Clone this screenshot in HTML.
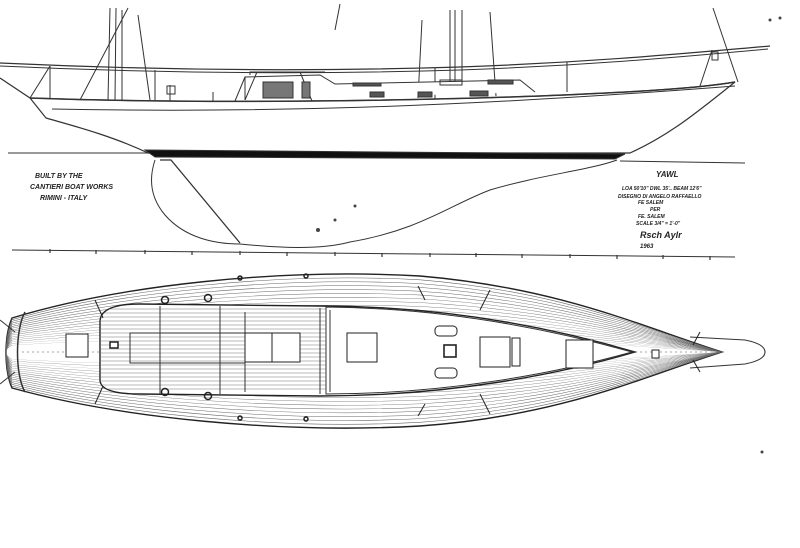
<!DOCTYPE html>
<html><head><meta charset="utf-8"><style>
html,body{margin:0;padding:0;background:#fff;}
svg{display:block;}
text{font-family:"Liberation Sans",sans-serif;font-style:italic;font-weight:bold;fill:#222;}
</style></head><body>
<svg width="800" height="548" viewBox="0 0 800 548" xmlns="http://www.w3.org/2000/svg">
<defs>
<path id="hull" d="M12,318 C120,285 280,268 420,276 C560,288 640,326 722,352 C640,378 560,416 420,426 C280,434 120,418 12,388 C4,370 4,336 12,318 Z"/>
<clipPath id="hc"><use href="#hull"/></clipPath>
<path id="house" d="M100,322 Q100,304 140,304 L320,306 C450,306 560,330 635,352 C560,374 450,396 320,396 L140,394 Q100,394 100,380 Z"/>
<clipPath id="ck"><use href="#house"/></clipPath>
</defs>
<rect width="800" height="548" fill="#fff"/>

<!-- PROFILE -->
<g stroke="#333" fill="none" stroke-width="1">
<line x1="110" y1="8" x2="108" y2="100"/><line x1="116" y1="8" x2="115" y2="100"/><line x1="122" y1="10" x2="122" y2="100"/>
<line x1="128" y1="8" x2="80" y2="100"/><line x1="138" y1="15" x2="150" y2="100"/>
<line x1="450" y1="10" x2="450" y2="82"/><line x1="455" y1="10" x2="455" y2="82"/><line x1="462" y1="10" x2="462" y2="82"/>
<line x1="490" y1="12" x2="496" y2="96"/><line x1="422" y1="20" x2="418" y2="98"/>
<line x1="340" y1="4" x2="335" y2="30"/>
<line x1="713" y1="8" x2="738" y2="82"/>
<path d="M0,63 C150,70 300,72 460,67 C600,62 700,52 770,46" stroke-width="1.2"/>
<path d="M0,66 C150,73 300,75 460,70 C600,65 700,55 768,49"/>
<line x1="50" y1="66" x2="30" y2="98"/><line x1="50" y1="66" x2="50" y2="99"/>
<line x1="155" y1="70" x2="155" y2="101"/><line x1="435" y1="68" x2="435" y2="100"/>
<line x1="567" y1="62" x2="567" y2="92"/><line x1="712" y1="50" x2="700" y2="86"/>
<rect x="712" y="52" width="6" height="8"/>
<path d="M0,78 L30,98 C200,104 400,101 540,96 C640,92 700,88 735,82 C700,110 670,135 630,153 L148,153 C110,135 70,125 46,118 L30,98" fill="#fff" stroke-width="1.2"/>
<path d="M30,98 C200,104 400,101 540,96 C640,92 700,88 735,82" stroke-width="1.5"/>
<path d="M52,109 C250,113 450,108 735,86" stroke-width="1"/>
<path d="M245,100 L245,77 L320,75 L335,84 L520,80 L535,92" fill="#fff"/>
<path d="M250,75 L250,72 L325,72" /><line x1="245" y1="77" x2="235" y2="101"/><line x1="300" y1="72" x2="312" y2="101"/>
<line x1="257" y1="72" x2="245" y2="100"/>
<rect x="263" y="82" width="30" height="16" fill="#777"/><rect x="302" y="82" width="8" height="16" fill="#777"/>
<rect x="370" y="92" width="14" height="5" fill="#555"/><rect x="418" y="92" width="14" height="5" fill="#555"/><rect x="470" y="91" width="18" height="5" fill="#555"/>
<rect x="353" y="83" width="28" height="3" fill="#555"/><rect x="488" y="80" width="25" height="4" fill="#555"/>
<rect x="440" y="80" width="22" height="5"/>
<line x1="170" y1="85" x2="170" y2="101"/><rect x="167" y="86" width="8" height="8"/>
<line x1="213" y1="92" x2="213" y2="101"/>
</g>
<g stroke="#333" fill="none">
<line x1="8" y1="153" x2="148" y2="153"/>
<line x1="620" y1="161" x2="745" y2="163"/>
<path d="M145,150 L625,154 L615,159 L155,157 Z" fill="#111"/>
<path d="M155,160 C150,175 148,195 165,215 C185,238 215,244 240,244 C280,248 320,250 350,242 C420,230 450,205 490,190 C540,175 590,170 617,160" fill="#fff"/>
<path d="M160,160 L171,160 L240,243" stroke-width="1.3"/>
<line x1="12" y1="250" x2="735" y2="257"/>
<g stroke-width="1.2">
<line x1="50" y1="249" x2="50" y2="253"/><line x1="96" y1="250" x2="96" y2="254"/><line x1="145" y1="250" x2="145" y2="254"/>
<line x1="192" y1="251" x2="192" y2="255"/><line x1="240" y1="251" x2="240" y2="255"/><line x1="287" y1="252" x2="287" y2="256"/>
<line x1="335" y1="252" x2="335" y2="256"/><line x1="382" y1="253" x2="382" y2="257"/><line x1="430" y1="253" x2="430" y2="257"/>
<line x1="476" y1="253" x2="476" y2="257"/><line x1="522" y1="254" x2="522" y2="258"/><line x1="570" y1="254" x2="570" y2="258"/>
<line x1="617" y1="255" x2="617" y2="259"/><line x1="663" y1="255" x2="663" y2="259"/><line x1="710" y1="256" x2="710" y2="260"/>
</g>
</g>
<g font-size="7">
<text x="35" y="178">BUILT BY THE</text>
<text x="30" y="189">CANTIERI BOAT WORKS</text>
<text x="40" y="200">RIMINI - ITALY</text>
<text x="656" y="177" font-size="8">YAWL</text>
<text x="622" y="190" font-size="5">LOA 50'10" DWL 35'.. BEAM 12'6"</text>
<text x="618" y="198" font-size="5">DISEGNO DI ANGELO RAFFAELLO</text>
<text x="638" y="204" font-size="5">FE SALEM</text>
<text x="650" y="211" font-size="5">PER</text>
<text x="638" y="218" font-size="5">FE. SALEM</text>
<text x="636" y="225" font-size="5">SCALE 3/4" = 1'-0"</text>
<text x="640" y="238" font-size="9" font-weight="normal">Rsch Aylr</text>
<text x="640" y="248" font-size="6">1963</text>
</g>

<!-- PLAN -->
<path d="M690,337 L745,340 Q765,344 765,352 Q765,360 745,364 L690,368" fill="#fff" stroke="#333" stroke-width="1.1"/>
<use href="#hull" fill="#fff" stroke="#222" stroke-width="1.4"/>
<g clip-path="url(#hc)" fill="none" stroke="#666" stroke-width="0.6">
<use href="#hull" transform="translate(0,352) scale(1,0.95) translate(0,-352)"/>
<use href="#hull" transform="translate(0,352) scale(1,0.90) translate(0,-352)"/>
<use href="#hull" transform="translate(0,352) scale(1,0.85) translate(0,-352)"/>
<use href="#hull" transform="translate(0,352) scale(1,0.80) translate(0,-352)"/>
<use href="#hull" transform="translate(0,352) scale(1,0.75) translate(0,-352)"/>
<use href="#hull" transform="translate(0,352) scale(1,0.70) translate(0,-352)"/>
<use href="#hull" transform="translate(0,352) scale(1,0.65) translate(0,-352)"/>
<use href="#hull" transform="translate(0,352) scale(1,0.60) translate(0,-352)"/>
<use href="#hull" transform="translate(0,352) scale(1,0.55) translate(0,-352)"/>
<use href="#hull" transform="translate(0,352) scale(1,0.50) translate(0,-352)"/>
<use href="#hull" transform="translate(0,352) scale(1,0.45) translate(0,-352)"/>
<use href="#hull" transform="translate(0,352) scale(1,0.40) translate(0,-352)"/>
<use href="#hull" transform="translate(0,352) scale(1,0.35) translate(0,-352)"/>
<use href="#hull" transform="translate(0,352) scale(1,0.30) translate(0,-352)"/>
<use href="#hull" transform="translate(0,352) scale(1,0.25) translate(0,-352)"/>
<use href="#hull" transform="translate(0,352) scale(1,0.20) translate(0,-352)"/>
</g>
<rect x="22" y="348" width="80" height="8" fill="#fff"/>
<path d="M620,349 L712,351 L712,353 L620,355 Z" fill="#fff"/>
<line x1="22" y1="352" x2="100" y2="352" stroke="#888" stroke-dasharray="2,3" stroke-width="0.7"/>
<line x1="635" y1="352" x2="712" y2="352" stroke="#888" stroke-dasharray="2,3" stroke-width="0.7"/>
<path d="M25,312 C15,330 15,375 25,392" fill="none" stroke="#333" stroke-width="1.5"/>
<line x1="0" y1="320" x2="15" y2="332" stroke="#333"/><line x1="0" y1="384" x2="15" y2="372" stroke="#333"/>
<use href="#house" fill="#fff" stroke="#222" stroke-width="1.4"/>
<g clip-path="url(#ck)" stroke="#777" stroke-width="0.6">
<line x1="100" y1="309" x2="330" y2="309"/><line x1="100" y1="313" x2="330" y2="313"/><line x1="100" y1="317" x2="330" y2="317"/>
<line x1="100" y1="321" x2="330" y2="321"/><line x1="100" y1="325" x2="330" y2="325"/><line x1="100" y1="329" x2="330" y2="329"/>
<line x1="100" y1="333" x2="330" y2="333"/><line x1="100" y1="337" x2="330" y2="337"/><line x1="100" y1="341" x2="330" y2="341"/>
<line x1="100" y1="345" x2="330" y2="345"/><line x1="100" y1="349" x2="330" y2="349"/><line x1="100" y1="353" x2="330" y2="353"/>
<line x1="100" y1="357" x2="330" y2="357"/><line x1="100" y1="361" x2="330" y2="361"/><line x1="100" y1="365" x2="330" y2="365"/>
<line x1="100" y1="369" x2="330" y2="369"/><line x1="100" y1="373" x2="330" y2="373"/><line x1="100" y1="377" x2="330" y2="377"/>
<line x1="100" y1="381" x2="330" y2="381"/><line x1="100" y1="385" x2="330" y2="385"/><line x1="100" y1="389" x2="330" y2="389"/>
</g>
<g fill="none" stroke="#333" stroke-width="1">
<line x1="160" y1="306" x2="160" y2="394"/><line x1="220" y1="306" x2="220" y2="394"/>
<rect x="130" y="333" width="115" height="30"/>
<line x1="245" y1="312" x2="245" y2="392"/><line x1="320" y1="308" x2="320" y2="394"/>
<path d="M326,307 C450,308 560,332 632,352 C560,372 450,394 326,394 Z" fill="#fff"/>
<line x1="330" y1="310" x2="330" y2="392"/>
</g>
<g fill="#fff" stroke="#222" stroke-width="1">
<rect x="66" y="334" width="22" height="23"/>
<rect x="245" y="333" width="27" height="29"/><rect x="272" y="333" width="28" height="29"/>
<rect x="347" y="333" width="30" height="29"/>
<rect x="480" y="337" width="30" height="30"/><rect x="512" y="338" width="8" height="28"/>
<rect x="566" y="340" width="27" height="28"/>
<rect x="444" y="345" width="12" height="12" stroke-width="1.6"/>
<rect x="435" y="326" width="22" height="10" rx="4"/><rect x="435" y="368" width="22" height="10" rx="4"/>
<rect x="110" y="342" width="8" height="6" stroke-width="1.5"/>
<rect x="652" y="350" width="7" height="8"/>
</g>
<g fill="none" stroke="#222" stroke-width="1.5">
<circle cx="165" cy="300" r="3.5"/><circle cx="208" cy="298" r="3.5"/>
<circle cx="165" cy="392" r="3.5"/><circle cx="208" cy="396" r="3.5"/>
<circle cx="240" cy="278" r="2"/><circle cx="306" cy="276" r="2"/><circle cx="240" cy="418" r="2"/><circle cx="306" cy="419" r="2"/>
</g>
<g stroke="#222" stroke-width="1">
<line x1="95" y1="300" x2="103" y2="318"/><line x1="95" y1="404" x2="103" y2="386"/>
<line x1="418" y1="286" x2="425" y2="300"/><line x1="418" y1="416" x2="425" y2="404"/>
<line x1="490" y1="290" x2="480" y2="310"/><line x1="490" y1="414" x2="480" y2="394"/>
<line x1="700" y1="332" x2="693" y2="345"/><line x1="700" y1="372" x2="693" y2="360"/>
</g>
<g fill="#444">
<circle cx="770" cy="20" r="1.5"/><circle cx="780" cy="18" r="1.5"/>
<circle cx="318" cy="230" r="2"/><circle cx="335" cy="220" r="1.5"/><circle cx="355" cy="206" r="1.5"/>
<circle cx="762" cy="452" r="1.5"/>
</g>
</svg>
</body></html>
